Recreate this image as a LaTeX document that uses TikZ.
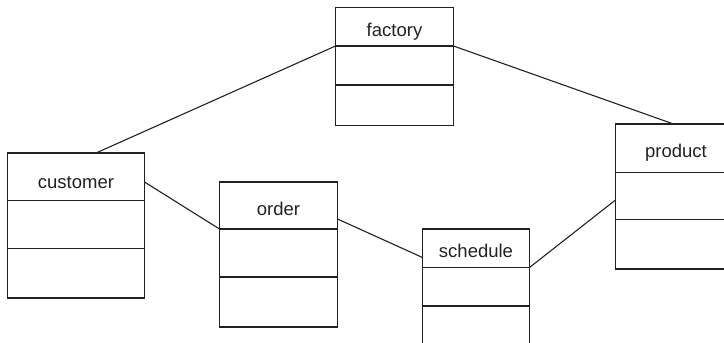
\documentclass[tikz,border=0pt]{standalone}
\usepackage{fontspec}
\setmainfont{Liberation Sans}
\begin{document}
\begin{tikzpicture}[x=1pt,y=-1pt,
  classbox/.style={draw=black!87,line width=1.1pt,fill=none,inner sep=0pt,outer sep=0pt,anchor=north west},
  divline/.style={draw=black!87,line width=1.1pt},
  assoc/.style={draw=black!87,line width=1.1pt},
  label/.style={inner sep=0pt,anchor=base,font=\fontsize{18.5}{20}\selectfont,text=black!87}]
\useasboundingbox (0,0) rectangle (724,343);
\clip (0,0) rectangle (724,343);
% customer
\node[classbox,minimum width=137pt,minimum height=145pt] (customer) at (7.5,153) {};
\draw[divline] (7.5,200.5) -- (144.5,200.5);
\draw[divline] (7.5,248.5) -- (144.5,248.5);
\node[label] (customerlbl) at (76,188) {customer};
% order
\node[classbox,minimum width=118pt,minimum height=145pt] (order) at (219.5,182) {};
\draw[divline] (219.5,229) -- (337.5,229);
\draw[divline] (219.5,277) -- (337.5,277);
\node[label] (orderlbl) at (278.5,215) {order};
% factory
\node[classbox,minimum width=118pt,minimum height=118pt] (factory) at (335.5,7.5) {};
\draw[divline] (335.5,46) -- (453.5,46);
\draw[divline] (335.5,85) -- (453.5,85);
\node[label] (factorylbl) at (394.5,36) {factory};
% schedule
\node[classbox,minimum width=107pt,minimum height=120pt] (schedule) at (422.5,229) {};
\draw[divline] (422.5,267.5) -- (529.5,267.5);
\draw[divline] (422.5,306) -- (529.5,306);
\node[label] (schedulelbl) at (476,257) {schedule};
% product
\node[classbox,minimum width=137pt,minimum height=145pt] (product) at (615.5,124) {};
\draw[divline] (615.5,172.5) -- (752.5,172.5);
\draw[divline] (615.5,219.5) -- (752.5,219.5);
\node[label] (productlbl) at (676,157) {product};
% connection points
\coordinate (cTop) at ([xshift=88.5pt]customer.north west);
\coordinate (cRight) at ([yshift=-29pt]customer.north east);
\coordinate (fLeft) at ([yshift=-38.5pt]factory.north west);
\coordinate (fRight) at ([yshift=-38.5pt]factory.north east);
\coordinate (oLeft) at ([yshift=-47pt]order.north west);
\coordinate (oRight) at ([yshift=-37pt]order.north east);
\coordinate (sLeft) at ([yshift=-28.5pt]schedule.north west);
\coordinate (sRight) at ([yshift=-38.5pt]schedule.north east);
\coordinate (pTop) at ([xshift=58pt]product.north west);
\coordinate (pLeft) at ([yshift=-76pt]product.north west);
\draw[assoc] (cTop) -- (fLeft);
\draw[assoc] (fRight) -- (pTop);
\draw[assoc] (cRight) -- (oLeft);
\draw[assoc] (oRight) -- (sLeft);
\draw[assoc] (sRight) -- (pLeft);
\end{tikzpicture}
\end{document}
